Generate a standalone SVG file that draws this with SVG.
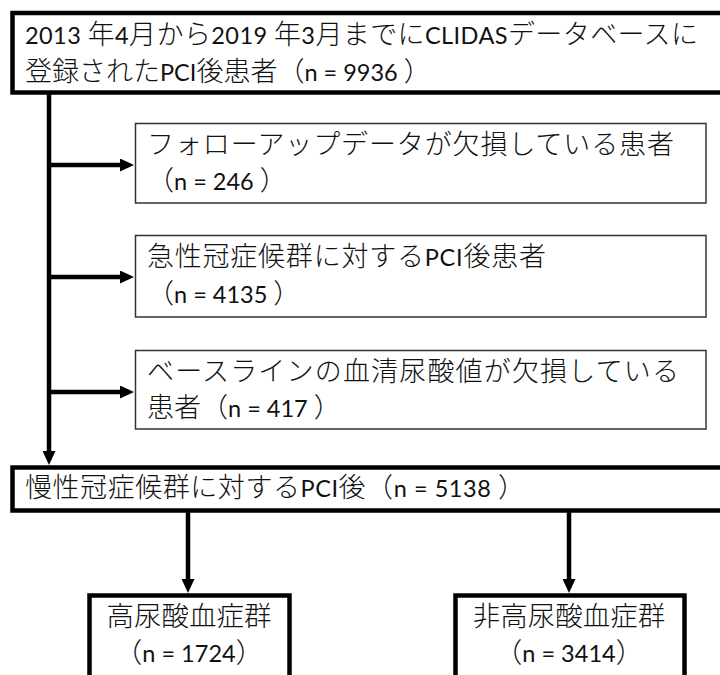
<svg xmlns="http://www.w3.org/2000/svg" width="720" height="675" viewBox="0 0 720 675">
<defs>
<style>
.thick{fill:#fff;stroke:#000;stroke-width:4.5}
.thin{fill:#fff;stroke:#333;stroke-width:1.5}
.t{font-family:"Noto Sans CJK JP",sans-serif;font-size:27px;font-weight:300;fill:#111}
.l{font-family:Lato,"Noto Sans CJK JP",sans-serif;font-size:23.5px;font-weight:400}
.c{stroke:#000;stroke-width:4.5;fill:none}
</style>
<marker id="ah" markerUnits="userSpaceOnUse" markerWidth="14" markerHeight="13" refX="4" refY="6.5" orient="auto">
<path d="M0,0 L14,6.5 L0,13 z" fill="#000"/>
</marker>
</defs>
<rect width="720" height="675" fill="#fff"/>
<g id="connectors">
<line class="c" x1="49" y1="94" x2="49" y2="455" marker-end="url(#ah)"/>
<line class="c" x1="49" y1="165" x2="124" y2="165" marker-end="url(#ah)"/>
<line class="c" x1="49" y1="277" x2="124" y2="277" marker-end="url(#ah)"/>
<line class="c" x1="49" y1="392" x2="124" y2="392" marker-end="url(#ah)"/>
<line class="c" x1="188" y1="512" x2="188" y2="583" marker-end="url(#ah)"/>
<line class="c" x1="569" y1="512" x2="569" y2="583" marker-end="url(#ah)"/>
</g>
<g id="n1">
<rect class="thick" x="12.5" y="13" width="720" height="79.5"/>
<text class="t" x="25" y="44" textLength="673" lengthAdjust="spacing"><tspan class="l">2013 </tspan>年<tspan class="l">4</tspan>月から<tspan class="l">2019 </tspan>年<tspan class="l">3</tspan>月までに<tspan class="l">CLIDAS</tspan>データベースに</text>
<text class="t" x="25" y="81">登録された<tspan class="l">PCI</tspan>後患者（<tspan class="l">n = 9936 </tspan>）</text>
</g>
<g id="n2">
<rect class="thin" x="135.5" y="123.5" width="570.5" height="79.5"/>
<text class="t" x="147" y="154" textLength="527" lengthAdjust="spacing">フォローアップデータが欠損している患者</text>
<text class="t" x="147" y="190">（<tspan class="l">n = 246 </tspan>）</text>
</g>
<g id="n3">
<rect class="thin" x="135.5" y="235.5" width="570.5" height="81.5"/>
<text class="t" x="147" y="266" textLength="399" lengthAdjust="spacing">急性冠症候群に対する<tspan class="l">PCI</tspan>後患者</text>
<text class="t" x="147" y="303">（<tspan class="l">n = 4135 </tspan>）</text>
</g>
<g id="n4">
<rect class="thin" x="135.5" y="350.5" width="570.5" height="78.5"/>
<text class="t" x="147" y="381" textLength="532" lengthAdjust="spacing">ベースラインの血清尿酸値が欠損している</text>
<text class="t" x="147" y="417">患者（<tspan class="l">n = 417 </tspan>）</text>
</g>
<g id="n5">
<rect class="thick" x="12.5" y="467.5" width="720" height="43"/>
<text class="t" x="25" y="497" textLength="500" lengthAdjust="spacing">慢性冠症候群に対する<tspan class="l">PCI</tspan>後（<tspan class="l">n = 5138 </tspan>）</text>
</g>
<g id="n6">
<rect class="thick" x="89.5" y="595.5" width="200" height="110"/>
<text class="t" x="189" y="626" text-anchor="middle" style="font-size:27.5px">高尿酸血症群</text>
<text class="t" x="189" y="662" text-anchor="middle" style="font-size:27.5px">（<tspan class="l">n = 1724</tspan>）</text>
</g>
<g id="n7">
<rect class="thick" x="455.5" y="595.5" width="229" height="110"/>
<text class="t" x="569" y="626" text-anchor="middle" style="font-size:27.5px">非高尿酸血症群</text>
<text class="t" x="569" y="662" text-anchor="middle" style="font-size:27.5px">（<tspan class="l">n = 3414</tspan>）</text>
</g>
</svg>
